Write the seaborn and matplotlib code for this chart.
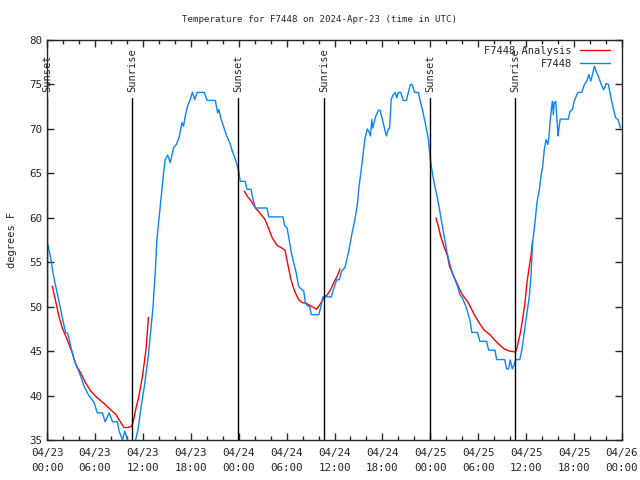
import numpy as np
import pandas as pd
import matplotlib
matplotlib.use("Agg")
import matplotlib.pyplot as plt
import seaborn as sns
from matplotlib.ticker import MultipleLocator

# -----------------------------
# DATA (hours since 04/23 00:00 UTC, degrees F)
# -----------------------------
obs_hours = [0.1, 0.46, 0.75, 1.09, 1.5, 1.92, 2.34, 2.6, 2.97, 3.39, 3.8, 4.22, 4.64, 5.18, 5.9,
             6.3, 6.94, 7.28, 7.78, 8.2, 8.82, 9.03, 9.45, 9.75, 10.08, 10.6, 11.1, 11.4, 11.8,
             12.25, 12.7, 13.25, 13.55, 13.76, 14.1, 14.4, 14.6, 14.8, 15.1, 15.43, 15.85, 16.2,
             16.56, 16.9, 17.1, 17.3, 17.6, 17.93, 18.2, 18.5, 18.8, 19.7, 20.04, 21.08, 21.37,
             21.5, 21.8, 22.1, 22.5, 22.9, 23.2, 23.6, 24.0, 24.2, 24.8, 25.05, 25.55, 25.75,
             26.1, 27.55, 27.76, 29.55, 29.76, 30.05, 30.25, 30.6, 30.9, 31.2, 31.5, 31.8, 32.15,
             32.35, 32.6, 32.88, 33.1, 34.05, 34.26, 34.55, 35.6, 35.9, 36.26, 36.6, 36.9, 37.3,
             37.6, 37.9, 38.2, 38.56, 38.86, 39.07, 39.3, 39.5, 39.8, 40.1, 40.3, 40.5, 40.67,
             40.8, 41.15, 41.5, 41.7, 42.0, 42.3, 42.5, 42.75, 42.9, 43.1, 43.35, 43.6, 43.8,
             44.0, 44.3, 44.6, 45.0, 45.3, 45.5, 45.7, 46.05, 46.5, 46.8, 47.1, 47.4, 47.76,
             48.0, 48.25, 48.56, 48.86, 49.15, 49.5, 49.8, 50.1, 50.4, 50.75, 51.07, 51.4, 51.7,
             52.0, 52.45, 52.7, 52.97, 53.2, 53.9, 54.2, 55.05, 55.3, 56.1, 56.3, 57.3, 57.55,
             57.8, 58.0, 58.25, 58.5, 58.7, 59.2, 59.47, 59.76, 60.06, 60.4, 60.6, 60.8, 61.1,
             61.35, 61.65, 61.86, 62.07, 62.27, 62.5, 62.7, 62.85, 63.0, 63.2, 63.3, 63.4, 63.5,
             63.7, 63.86, 64.0, 64.1, 64.27, 65.27, 65.5, 65.8, 66.0, 66.45, 66.95, 67.3, 67.6,
             67.85, 67.95, 68.1, 68.3, 68.55, 68.76, 69.05, 69.4, 69.7, 69.9, 70.0, 70.3, 70.5,
             70.7, 71.0, 71.2, 71.5, 71.7, 71.8]
obs_temps = [57.0, 55.5, 53.8, 52.3, 50.6, 48.75, 47.05, 47.0, 45.55, 44.05, 43.1, 42.2, 41.05, 40.1, 39.2,
             38.05, 38.05, 37.05, 38.05, 37.05, 37.05, 36.0, 35.0, 36.0, 35.0, 34.0, 35.0, 36.2, 38.8,
             41.4, 44.6, 49.7, 53.8, 57.55, 60.55, 63.2, 65.05, 66.55, 67.05, 66.2, 67.9, 68.25,
             69.1, 70.7, 70.3, 71.4, 72.55, 73.3, 74.1, 73.3, 74.1, 74.1, 73.2, 73.2, 71.8,
             72.2, 71.1, 70.3, 69.2, 68.4, 67.5, 66.55, 65.3, 64.1, 64.1, 63.2, 63.2, 62.25,
             61.1, 61.1, 60.1, 60.1, 59.1, 58.9, 57.9, 56.05, 54.95, 53.8, 52.3, 52.0, 51.75,
             50.45, 50.1, 50.05, 49.1, 49.1, 49.9, 51.1, 51.1, 52.0, 53.0, 53.05, 54.0, 54.4,
             55.5, 56.8, 58.3, 59.8, 61.5, 63.55, 65.05, 66.55, 68.8, 70.0, 69.7, 69.2, 71.05,
             70.1, 71.4, 72.1, 72.1, 71.05, 69.9, 69.2, 70.0, 70.1, 73.3, 73.85, 74.1, 73.5,
             74.1, 74.1, 73.2, 73.2, 74.25, 75.0, 75.0, 74.1, 74.1, 72.9, 71.8, 70.5, 68.8,
             66.55, 65.05, 63.55, 62.4, 60.9, 59.05, 57.55, 56.05, 54.95, 53.8, 53.05, 52.3, 51.35,
             51.0, 50.05, 49.3, 48.4, 47.1, 47.1, 46.1, 46.1, 45.1, 45.1, 44.05, 44.05, 43.0,
             43.0, 44.0, 43.0, 43.5, 44.05, 44.05, 45.2, 47.05, 48.9, 51.2, 53.4, 57.2, 59.4,
             61.7, 63.2, 64.7, 65.8, 67.7, 68.8, 68.25, 69.0, 70.85, 72.55, 73.1, 71.6, 72.9,
             73.1, 71.05, 69.2, 70.1, 71.1, 71.1, 72.0, 72.2, 73.1, 74.1, 74.1, 75.0, 75.4,
             76.1, 75.75, 75.4, 76.1, 77.05, 76.5, 75.9, 75.0, 74.4, 74.8, 75.1, 75.0, 74.05,
             73.1, 72.0, 71.25, 71.05, 70.5, 70.1]

ana1_hours = [0.66, 1.09, 1.5, 1.92, 2.34, 2.76, 3.17, 3.6, 4.22, 4.85, 5.48, 6.3, 7.14, 7.98,
              8.6, 9.15, 9.65, 10.08, 10.6, 10.8, 11.1, 11.5, 11.96, 12.4, 12.7]
ana1_temps = [52.3, 50.6, 48.9, 47.6, 46.7, 45.75, 44.8, 43.5, 42.55, 41.4, 40.5, 39.75, 39.1, 38.4,
              37.9, 37.1, 36.4, 36.4, 36.55, 37.1, 38.4, 39.9, 42.2, 45.2, 48.8]
ana2_hours = [24.7, 25.1, 25.6, 26.1, 26.65, 27.3, 27.7, 28.2, 28.8, 29.4, 29.8, 30.2, 30.5, 30.8,
              31.1, 31.5, 31.96, 32.45, 33.0, 33.4, 33.75, 34.25, 34.67, 35.1, 35.5, 35.9, 36.35, 36.7]
ana2_temps = [63.0, 62.4, 61.85, 61.1, 60.55, 59.8, 58.9, 57.75, 56.9, 56.6, 56.35, 54.55, 53.25, 52.3,
              51.55, 50.8, 50.45, 50.4, 50.1, 49.9, 49.7, 50.35, 51.0, 51.35, 51.9, 52.7, 53.45, 54.25]
ana3_hours = [48.7, 49.0, 49.3, 49.7, 50.15, 50.4, 50.75, 51.2, 51.6, 52.0, 52.65, 53.07, 53.5, 54.1,
              54.75, 55.4, 56.0, 56.6, 57.25, 57.9, 58.7, 58.9, 59.27, 59.55, 59.85, 60.1, 60.4,
              60.6, 60.8]
ana3_temps = [60.0, 59.05, 57.9, 56.8, 55.7, 54.55, 53.8, 52.9, 52.1, 51.35, 50.6, 49.9, 49.1, 48.2,
              47.35, 46.9, 46.3, 45.75, 45.25, 45.0, 44.9, 45.55, 47.05, 48.55, 50.45, 52.7, 54.55,
              55.7, 57.4]

sun_hours = [0.0, 10.65, 23.9, 34.7, 47.95, 58.6]
sun_labels = ["Sunset", "Sunrise", "Sunset", "Sunrise", "Sunset", "Sunrise"]

tick_hours = [0, 6, 12, 18, 24, 30, 36, 42, 48, 54, 60, 66, 72]
tick_labels = ["04/23\n00:00", "04/23\n06:00", "04/23\n12:00", "04/23\n18:00",
               "04/24\n00:00", "04/24\n06:00", "04/24\n12:00", "04/24\n18:00",
               "04/25\n00:00", "04/25\n06:00", "04/25\n12:00", "04/25\n18:00",
               "04/26\n00:00"]

# -----------------------------
# PLOT
# -----------------------------
sns.set_style("ticks")
plt.rcParams['font.family'] = ['DejaVu Sans Mono', 'DejaVu Sans']
plt.rcParams['font.size'] = 7.5

fig = plt.figure(figsize=(6.4, 4.8), dpi=100)
ax = fig.add_axes([47/640, 40/480, 575/640, 400/480])

red = "#ff0000"
blue = "#0a84ff"

sns.lineplot(x=ana1_hours, y=ana1_temps, color=red, lw=1, label="F7448 Analysis", ax=ax)
sns.lineplot(x=ana2_hours, y=ana2_temps, color=red, lw=1, ax=ax)
sns.lineplot(x=ana3_hours, y=ana3_temps, color=red, lw=1, ax=ax)
sns.lineplot(x=obs_hours, y=obs_temps, color=blue, lw=1, label="F7448", ax=ax,
             sort=False, estimator=None)

ax.set_xlim(0, 72)
ax.set_ylim(35, 80)

for h, lab in zip(sun_hours, sun_labels):
    ax.axvline(h, ymin=0, ymax=(73.5 - 35) / 45, color="black", lw=1)
    ax.text(h, 74.2, lab, rotation=90, ha="center", va="bottom", fontsize=7.5)

ax.set_xticks(tick_hours)
ax.set_xticklabels(tick_labels, linespacing=1.6)
ax.xaxis.set_minor_locator(MultipleLocator(2))
ax.yaxis.set_major_locator(MultipleLocator(5))
ax.tick_params(which="both", direction="in", top=True, right=True, labelsize=7.8, width=1)
ax.tick_params(axis="x", which="major", pad=6)
ax.tick_params(which="major", length=5)
ax.tick_params(which="minor", length=3)
for s in ax.spines.values():
    s.set_linewidth(1)

ax.set_xlabel("")
ax.set_ylabel("degrees F", fontsize=7.5, labelpad=9)
fig.text(0.5, 1 - 19/480, "Temperature for F7448 on 2024-Apr-23 (time in UTC)",
         fontsize=6.6, ha="center", va="center")

ax.legend(loc="upper right", bbox_to_anchor=(1.0, 1.016), frameon=False, markerfirst=False,
          handlelength=2.8, borderaxespad=0.8, labelspacing=0.25, fontsize=7.5)

plt.savefig("out.png", dpi=100)
